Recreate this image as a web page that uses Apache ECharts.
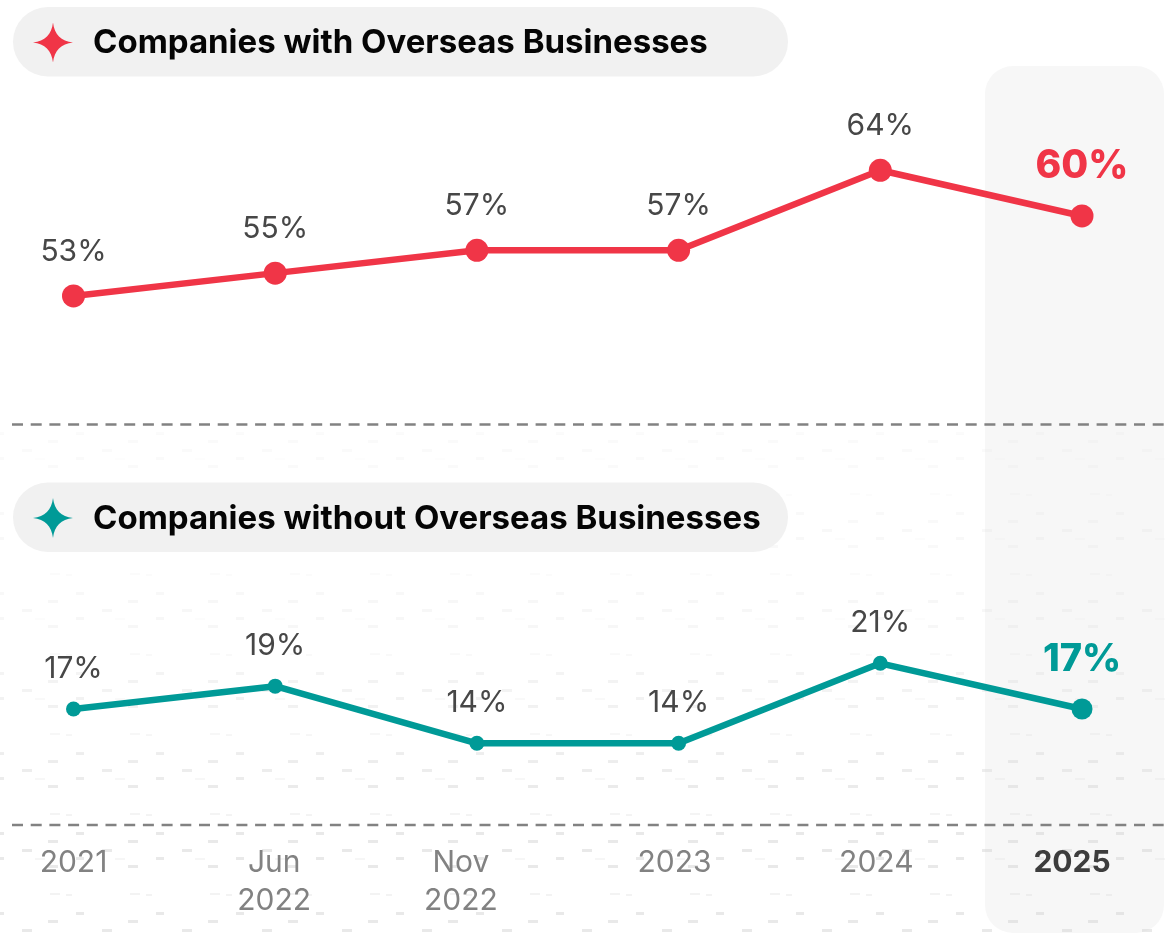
<!DOCTYPE html>
<html>
<head>
<meta charset="utf-8">
<style>html,body{margin:0;padding:0;background:#fff}#chart{width:1166px;height:936px}</style>
<script src="https://cdn.jsdelivr.net/npm/echarts@6/dist/echarts.min.js"></script>
</head>
<body>
<div id="chart"></div>
<script>
const categories = ['2021', 'Jun\n2022', 'Nov\n2022', '2023', '2024', '2025'];
const withOverseas = [53, 55, 57, 57, 64, 60];
const withoutOverseas = [17, 19, 14, 14, 21, 17];
const withTitle = 'Companies with Overseas Businesses';
const withoutTitle = 'Companies without Overseas Businesses';
const tickShift = [0, 2, 32, 8, 8, 20];

const RED = '#F03547';
const TEAL = '#009A97';
const FONT = 'Inter, "Noto Sans", sans-serif';

// Four-pointed sparkle used as the panel heading icon.
echarts.graphic.registerShape('sparkle', echarts.graphic.extendShape({
  type: 'sparkle',
  shape: { cx: 0, cy: 0, r: 20 },
  buildPath: function (ctx, s) {
    const r = s.r, k = r * 0.07, m = r * 0.4, x = s.cx, y = s.cy;
    ctx.moveTo(x, y - r);
    ctx.bezierCurveTo(x + k, y - m, x + m, y - k, x + r, y);
    ctx.bezierCurveTo(x + m, y + k, x + k, y + m, x, y + r);
    ctx.bezierCurveTo(x - k, y + m, x - m, y + k, x - r, y);
    ctx.bezierCurveTo(x - m, y - k, x - k, y - m, x, y - r);
    ctx.closePath();
  }
}));

// Faint dash texture over the lower panel, fading in from the divider downward.
function textureCanvas() {
  const c = document.createElement('canvas');
  c.width = 1166; c.height = 936;
  const g = c.getContext('2d');
  const dashes = [[22, 49, 10, 3, .9], [48, 65, 10, 3, .9], [76, 57, 8, 3, .9], [76, 32, 8, 3, .9],
    [35, 58, 10, 2, .4], [50, 13, 10, 2, .5], [66, 14, 6, 2, .5], [48, 40, 10, 3, .9]];
  for (let oy = 400; oy < 936; oy += 80) {
    for (let ox = -80; ox < 1166; ox += 80) {
      dashes.forEach(function (d) {
        g.fillStyle = 'rgba(215,215,215,' + d[4] + ')';
        g.fillRect(ox + d[0], oy + d[1], d[2], d[3]);
      });
    }
  }
  g.globalCompositeOperation = 'destination-in';
  const fade = g.createLinearGradient(0, 430, 0, 820);
  fade.addColorStop(0, 'rgba(0,0,0,0.12)');
  fade.addColorStop(0.5, 'rgba(0,0,0,0.22)');
  fade.addColorStop(1, 'rgba(0,0,0,0.6)');
  g.fillStyle = fade;
  g.fillRect(0, 430, 1166, 506);
  g.clearRect(0, 0, 1166, 430);
  return c;
}

function points(values, color, size, lastSize, lastFont, lastDistance) {
  return values.map(function (v, i) {
    const last = i === values.length - 1;
    return {
      value: v,
      symbolSize: last ? lastSize : size,
      label: last
        ? { show: true, position: 'top', distance: lastDistance, formatter: '{c}%', color: color,
            fontFamily: FONT, fontSize: lastFont, fontWeight: 800 }
        : { show: true, position: 'top', distance: 18, formatter: '{c}%', color: '#474747',
            fontFamily: FONT, fontSize: 30, fontWeight: 400 }
    };
  });
}

function lineSeries(index, values, color, size, lastSize, lastFont, lastDistance) {
  return {
    type: 'line', xAxisIndex: index, yAxisIndex: index,
    data: points(values, color, size, lastSize, lastFont, lastDistance),
    symbol: 'circle', showSymbol: true, showAllSymbols: true,
    lineStyle: { color: color, width: 6.5 },
    itemStyle: { color: color },
    z: 5, clip: false, animation: false
  };
}

const rich = {};
categories.forEach(function (c, i) {
  rich['t' + i] = {
    color: i === 5 ? '#3d3d3d' : '#828282',
    fontFamily: FONT, fontSize: 30, fontWeight: i === 5 ? 700 : 400,
    lineHeight: 38, padding: [0, tickShift[i], 0, 0]
  };
});

function pill(y, color) {
  return [
    { type: 'rect', z: 1, shape: { x: 13, y: y, width: 775, height: 69.5, r: 35 }, style: { fill: '#f1f1f1' } },
    { type: 'sparkle', z: 2, shape: { cx: 53, cy: y + 35.5, r: 20 }, style: { fill: color } }
  ];
}

function divider(y) {
  return { type: 'line', z: 1, shape: { x1: 12, y1: y, x2: 1164, y2: y },
    style: { stroke: '#828282', lineWidth: 2.6, lineDash: [11, 7.7] } };
}

const chart = echarts.init(document.getElementById('chart'), null, { renderer: 'canvas' });
chart.setOption({
  backgroundColor: '#fff',
  animation: false,
  title: [
    { text: withTitle, left: 88, top: 22, textStyle: { fontFamily: FONT, fontSize: 33, fontWeight: 700, color: '#050505' } },
    { text: withoutTitle, left: 88, top: 498, textStyle: { fontFamily: FONT, fontSize: 33, fontWeight: 700, color: '#050505' } }
  ],
  graphic: [
    { type: 'rect', z: -3, shape: { x: 985, y: 66, width: 179, height: 867, r: 28 }, style: { fill: '#f7f7f7' } },
    { type: 'image', z: -2, style: { image: textureCanvas(), x: 0, y: 0, width: 1166, height: 936 } },
    ...pill(7, RED),
    ...pill(482.5, TEAL),
    divider(424.5),
    divider(825)
  ],
  grid: [
    { left: 73.5, right: 84, top: 101.7, height: 320 },
    { left: 73.5, right: 84, top: 617.6, height: 205.7 }
  ],
  xAxis: [
    { type: 'category', gridIndex: 0, data: categories, boundaryGap: false, show: false },
    { type: 'category', gridIndex: 1, data: categories, boundaryGap: false,
      axisLine: { show: false }, axisTick: { show: false },
      axisLabel: {
        interval: 0, margin: 20.5, rich: rich,
        formatter: function (v, i) {
          return v.split('\n').map(function (s) { return '{t' + i + '|' + s + '}'; }).join('\n');
        }
      } }
  ],
  yAxis: [
    { type: 'value', gridIndex: 0, min: 42, max: 70, show: false },
    { type: 'value', gridIndex: 1, min: 7, max: 25, show: false }
  ],
  series: [
    lineSeries(0, withOverseas, RED, 23, 23, 39, 19),
    lineSeries(1, withoutOverseas, TEAL, 15, 21, 38, 20)
  ]
});
</script>
</body>
</html>
